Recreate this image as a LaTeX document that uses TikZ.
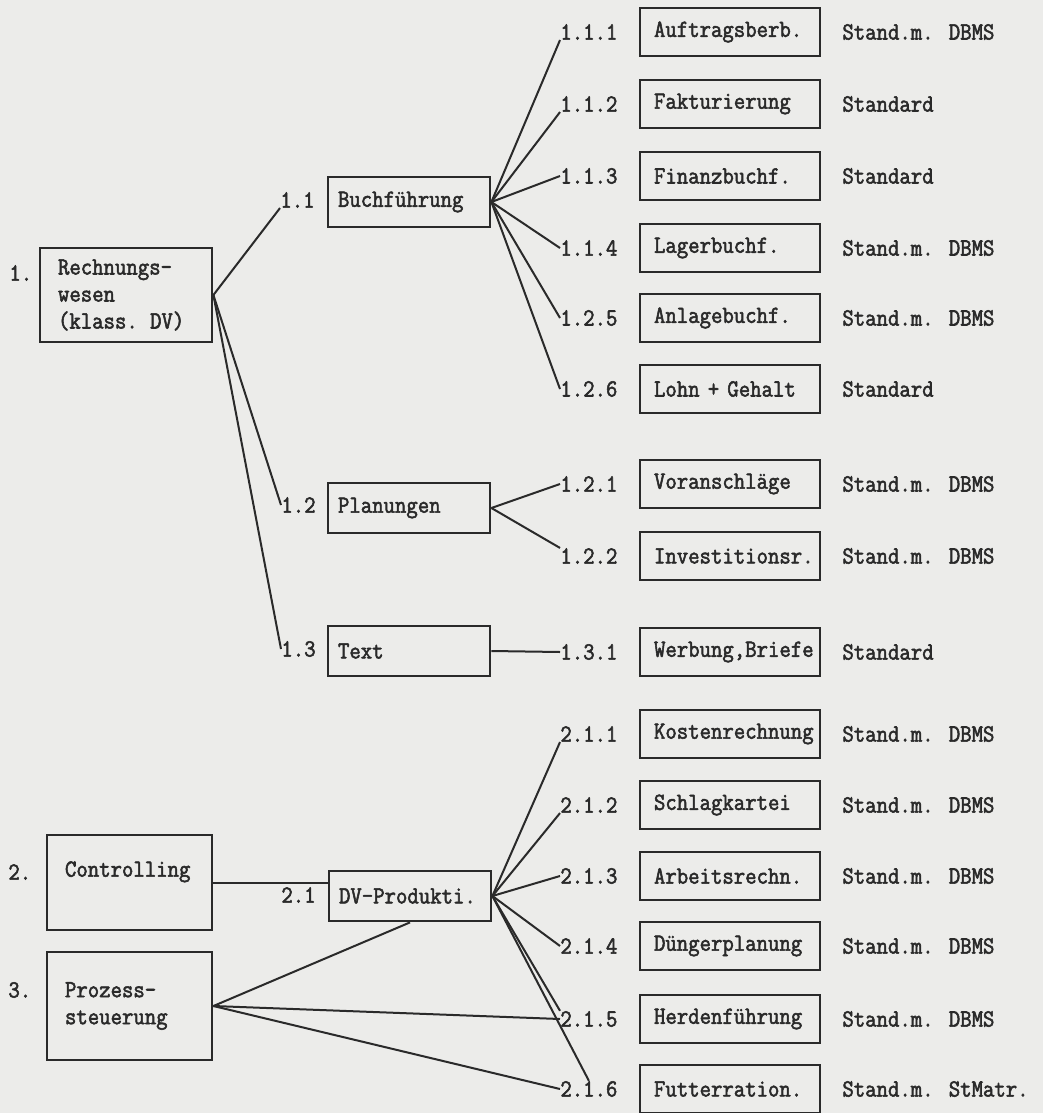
\documentclass[tikz,border=0pt]{standalone}
\usepackage{fontspec}
\newfontfamily\typewriter{Latin Modern Mono}[FakeBold=2.2, FakeStretch=0.9]
\hyphenpenalty=10000
\exhyphenpenalty=10000
\definecolor{paper}{HTML}{ECECEA}
\definecolor{ink}{HTML}{2A2A2A}
\begin{document}
\begin{tikzpicture}[x=0.5pt,y=-0.5pt,
  every node/.style={font=\typewriter\fontsize{12.3}{13.5}\selectfont, text=ink},
  boxbase/.style={draw=ink, line width=1.4pt, align=left, inner ysep=0pt},
  leafbox/.style={boxbase, text width=76pt, inner xsep=7pt, minimum height=24pt},
  midbox/.style={boxbase, text width=71pt, inner xsep=5pt, minimum height=25pt},
  mainbox/.style={boxbase, inner xsep=9pt},
  num/.style={inner sep=0pt, anchor=west},
  note/.style={inner sep=0pt, anchor=west},
  link/.style={draw=ink, line width=1pt},
]
\useasboundingbox (0,0) rectangle (1043,1113);
\fill[paper] (0,0) rectangle (1043,1113);

% main areas
\node[mainbox, text width=68pt, minimum height=47pt] (rw) at (126,295) {Rechnungs-\\wesen\\(klass. DV)};
\node[mainbox, text width=64.5pt, minimum height=47.5pt] (ct) at (129.5,882.5) {Controlling\\\mbox{}};
\node[mainbox, text width=64.5pt, minimum height=54pt] (pz) at (129.5,1006) {Prozess-\\steuerung};
\node[num] (n1) at (9,273) {1.};
\node[num] (n2) at (8,872) {2.};
\node[num] (n3) at (8,990) {3.};

% second level
\node[midbox] (bf) at (409,202) {Buchführung};
\node[midbox] (pl) at (409,508) {Planungen};
\node[midbox] (tx) at (409,651) {Text};
\node[midbox] (dv) at (410,896) {DV-Produkti.};
\node[num] (m11) at (280,200) {1.1};
\node[num] (m12) at (281,505) {1.2};
\node[num] (m13) at (281,649) {1.3};
\node[num] (m21) at (281,895) {2.1};

% programs with their software basis
\foreach \id/\y/\no/\title/\kind in {
  111/32/1.1.1/Auftragsberb./Stand.m. DBMS,
  112/104/1.1.2/Fakturierung/Standard,
  113/176/1.1.3/Finanzbuchf./Standard,
  114/248/1.1.4/Lagerbuchf./Stand.m. DBMS,
  125/318/1.2.5/Anlagebuchf./Stand.m. DBMS,
  126/389/1.2.6/Lohn + Gehalt/Standard,
  121/484/1.2.1/Voranschläge/Stand.m. DBMS,
  122/556/1.2.2/Investitionsr./Stand.m. DBMS,
  131/652/1.3.1/{Werbung,Briefe}/Standard,
  211/734/2.1.1/Kostenrechnung/Stand.m. DBMS,
  212/805/2.1.2/Schlagkartei/Stand.m. DBMS,
  213/876/2.1.3/Arbeitsrechn./Stand.m. DBMS,
  214/946/2.1.4/Düngerplanung/Stand.m. DBMS,
  215/1019/2.1.5/Herdenführung/Stand.m. DBMS,
  216/1089/2.1.6/Futterration./Stand.m. StMatr.}{
  \node[num] (l\id) at (560,\y) {\no};
  \node[leafbox] (b\id) at (730,\y) {\title};
  \node[note] (s\id) at (842,\y) {\kind};
}

% connectors
\draw[link] (rw.east) -- (m11.south west);
\draw[link] (rw.east) -- (m12.west);
\draw[link] (rw.east) -- (m13.west);

\draw[link] (bf.east) -- (l111.south west);
\draw[link] (bf.east) -- (l112.south west);
\draw[link] (bf.east) -- (l113.west);
\draw[link] (bf.east) -- (l114.west);
\draw[link] (bf.east) -- (l125.west);
\draw[link] (bf.east) -- (l126.west);

\draw[link] (pl.east) -- (l121.west);
\draw[link] (pl.east) -- (l122.north west);
\draw[link] (tx.east) -- (l131.west);

\draw[link] (dv.east) -- (l211.south west);
\draw[link] (dv.east) -- (l212.south west);
\draw[link] (dv.east) -- (l213.west);
\draw[link] (dv.east) -- (l214.west);
\draw[link] (dv.east) -- (l215.north west);
\draw[link] (dv.east) -- (l216.north);

\draw[link] (ct.east) -- (ct.east -| dv.west);
\draw[link] (pz.east) -- (dv.south);
\draw[link] (pz.east) -- (l215.west);
\draw[link] (pz.east) -- (l216.west);
\end{tikzpicture}
\end{document}
